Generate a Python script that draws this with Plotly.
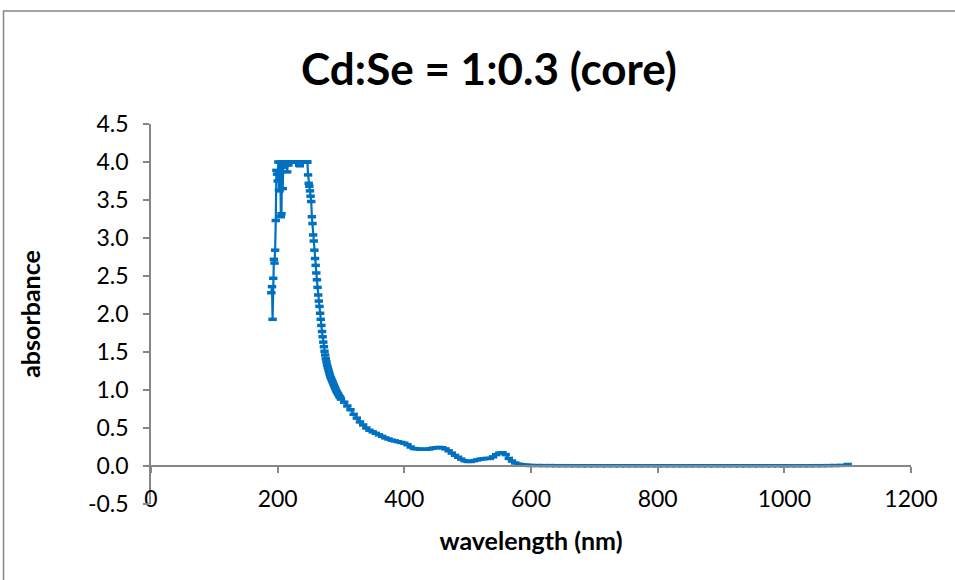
import plotly.graph_objects as go

# ---- data ----
wl_uv = list(range(190, 301))  # 1 nm steps
abs_uv = [
    2.28, 2.36, 1.93, 2.47, 2.72, 2.67, 2.84, 3.23, 3.89, 3.84,   # 190-199
    3.75, 4.00, 3.63, 3.62, 4.00, 3.28, 3.32, 4.00, 3.65, 4.00,   # 200-209
    3.93, 4.00, 4.00, 3.96, 4.00, 3.87, 4.00, 3.96, 4.00, 4.00,   # 210-219
    4.00, 4.00, 4.00, 4.00, 4.00, 4.00, 4.00, 4.00, 4.00, 4.00,   # 220-229
    4.00, 4.00, 4.00, 4.00, 3.96, 3.95, 4.00, 4.00, 4.00, 4.00,   # 230-239
    4.00, 4.00, 4.00, 4.00, 4.00, 4.00, 4.00, 4.00, 3.83, 3.72,   # 240-249
    3.68, 3.62, 3.55, 3.48, 3.28, 3.19, 3.04, 2.96, 2.84, 2.73,   # 250-259
    2.64, 2.54, 2.45, 2.35, 2.25, 2.17, 2.10, 2.01, 1.93, 1.85,   # 260-269
    1.77, 1.70, 1.63, 1.57, 1.51, 1.46, 1.41, 1.37, 1.33, 1.30,   # 270-279
    1.27, 1.24, 1.21, 1.18, 1.16, 1.14, 1.12, 1.10, 1.08, 1.06,   # 280-289
    1.04, 1.02, 1.00, 0.98, 0.97, 0.95, 0.94, 0.92, 0.91, 0.90,   # 290-299
    0.88,                                                         # 300
]

wl_vis = list(range(305, 601, 5))  # 5 nm steps
abs_vis = [
    0.84, 0.79, 0.74, 0.68, 0.63, 0.58, 0.54, 0.50, 0.47, 0.45,   # 305-350
    0.43, 0.41, 0.39, 0.37, 0.355, 0.34, 0.33, 0.32, 0.31, 0.30,  # 355-400
    0.28, 0.25, 0.23, 0.225, 0.22, 0.22, 0.22, 0.225, 0.235, 0.24,  # 405-450
    0.245, 0.24, 0.225, 0.20, 0.17, 0.14, 0.115, 0.09, 0.07, 0.06,  # 455-500
    0.06, 0.07, 0.08, 0.09, 0.095, 0.10, 0.10, 0.12, 0.15, 0.17,  # 505-550
    0.175, 0.15, 0.10, 0.065, 0.04, 0.025, 0.018, 0.012, 0.009, 0.007,  # 555-600
]

wl_nir = list(range(610, 1101, 10))  # 10 nm steps
abs_nir = [
    0.006, 0.005, 0.005, 0.004, 0.004, 0.004, 0.003, 0.003, 0.003, 0.003,  # 610-700
    0.003, 0.003, 0.003, 0.003, 0.003, 0.003, 0.003, 0.003, 0.003, 0.003,  # 710-800
    0.003, 0.003, 0.003, 0.003, 0.003, 0.003, 0.003, 0.003, 0.003, 0.003,  # 810-900
    0.003, 0.003, 0.003, 0.003, 0.003, 0.003, 0.003, 0.003, 0.003, 0.003,  # 910-1000
    0.003, 0.003, 0.003, 0.003, 0.004, 0.004, 0.005, 0.006, 0.008, 0.020,  # 1010-1100
]

wavelength = wl_uv + wl_vis + wl_nir
absorbance = abs_uv + abs_vis + abs_nir

x_ticks = [0, 200, 400, 600, 800, 1000, 1200]
y_ticks = [-0.5, 0.0, 0.5, 1.0, 1.5, 2.0, 2.5, 3.0, 3.5, 4.0, 4.5]
y_tick_text = ["-0.5", "0.0", "0.5", "1.0", "1.5", "2.0", "2.5", "3.0", "3.5", "4.0", "4.5"]

title_text = "Cd:Se = 1:0.3 (core)"
x_title = "wavelength (nm)"
y_title = "absorbance"

BLUE = "#0070C0"
GRAY = "#868686"
FONT = "Lato"

fig = go.Figure()
fig.add_trace(go.Scatter(
    x=wavelength, y=absorbance, mode="lines+markers",
    line=dict(color=BLUE, width=2.2),
    marker=dict(symbol="line-ew", size=6, line=dict(color=BLUE, width=3.5)),
    showlegend=False, hoverinfo="x+y",
))

fig.update_layout(
    width=955, height=580,
    margin=dict(l=151, r=44, t=124, b=76),
    paper_bgcolor="white", plot_bgcolor="white",
    font=dict(family=FONT, color="black"),
    title=dict(text="<b>" + title_text + "</b>", x=489 / 955, xref="container",
               xanchor="center", y=1 - 70 / 580, yref="container", yanchor="middle",
               font=dict(size=44, family=FONT, color="black")),
    xaxis=dict(
        range=[0, 1200], tickvals=x_ticks, showgrid=False, zeroline=False,
        showline=True, linecolor=GRAY, linewidth=1.5,
        ticks="outside", ticklen=6, tickcolor=GRAY, tickwidth=1.5,
        anchor="free", position=0.1,
        tickfont=dict(size=23, family=FONT, color="black"),
        ticklabelstandoff=7,
        title=dict(text="<b>" + x_title + "</b>", standoff=20,
                   font=dict(size=25, family=FONT, color="black")),
    ),
    yaxis=dict(
        range=[-0.5, 4.5], tickvals=y_ticks, ticktext=y_tick_text,
        showgrid=False, zeroline=False,
        showline=True, linecolor=GRAY, linewidth=1.5,
        ticks="outside", ticklen=6, tickcolor=GRAY, tickwidth=1.5,
        tickfont=dict(size=23, family=FONT, color="black"),
        ticklabelstandoff=10,
        title=dict(text="<b>" + y_title + "</b>", standoff=40,
                   font=dict(size=25, family=FONT, color="black")),
    ),
    shapes=[dict(type="rect", xref="paper", yref="paper",
                 x0=(3.5 - 151) / 760, x1=1.2, y0=-0.5, y1=(504 - 11) / 380,
                 line=dict(color=GRAY, width=1.5), fillcolor="rgba(0,0,0,0)",
                 layer="below")],
)

fig.write_html("out.html")
